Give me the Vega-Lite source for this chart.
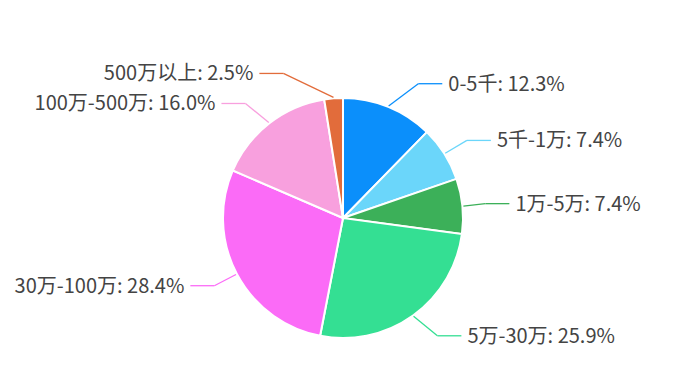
{
  "$schema": "https://vega.github.io/schema/vega-lite/v6.json",
  "width": 679,
  "height": 380,
  "autosize": {"type": "fit", "contains": "padding"},
  "padding": {"left": 7, "top": 56, "right": 0, "bottom": 0},
  "background": "white",
  "view": {"stroke": null},
  "config": {"text": {"font": "Noto Sans CJK SC"}},
  "data": {
    "values": [
      {"k": 1, "label": "0-5千", "value": 12.3},
      {"k": 2, "label": "5千-1万", "value": 7.4},
      {"k": 3, "label": "1万-5万", "value": 7.4},
      {"k": 4, "label": "5万-30万", "value": 25.9},
      {"k": 5, "label": "30万-100万", "value": 28.4},
      {"k": 6, "label": "100万-500万", "value": 16.0},
      {"k": 7, "label": "500万以上", "value": 2.5}
    ]
  },
  "transform": [
    {"window": [{"op": "sum", "field": "value", "as": "cum"}], "sort": [{"field": "k"}], "frame": [null, 0]},
    {"joinaggregate": [{"op": "sum", "field": "value", "as": "total"}]},
    {"calculate": "(datum.cum - datum.value / 2) / datum.total * 2 * PI", "as": "mid"},
    {"calculate": "sin(datum.mid) >= 0 ? 1 : -1", "as": "side"},
    {"calculate": "121 * sin(datum.mid)", "as": "x0"},
    {"calculate": "121 * cos(datum.mid)", "as": "y0"},
    {"calculate": "145 * cos(datum.mid)", "as": "y1"},
    {"calculate": "datum.side * sqrt(167 * 167 - datum.y1 * datum.y1)", "as": "x3"},
    {"calculate": "datum.x3 - datum.side * 24", "as": "x1"},
    {"calculate": "datum.x3 + datum.side * 6", "as": "xt"},
    {"calculate": "datum.label + ': ' + format(datum.value, '.1f') + '%'", "as": "txt"}
  ],
  "layer": [
    {
      "mark": {"type": "arc", "outerRadius": 120, "stroke": "white", "strokeWidth": 2},
      "encoding": {
        "theta": {"field": "value", "type": "quantitative", "stack": true},
        "order": {"field": "k", "type": "quantitative"},
        "color": {
          "field": "label", "type": "nominal", "legend": null, "sort": null,
          "scale": {
            "domain": ["0-5千", "5千-1万", "1万-5万", "5万-30万", "30万-100万", "100万-500万", "500万以上"],
            "range": ["#0b8ffb", "#6bd6fa", "#3cb059", "#34df93", "#fb6bf7", "#f8a0de", "#e26c3b"]
          }
        }
      }
    },
    {
      "mark": {"type": "rule", "strokeWidth": 1.3},
      "encoding": {
        "x": {"field": "x0", "type": "quantitative", "axis": null, "scale": {"domain": [-336, 336], "nice": false, "zero": false}},
        "y": {"field": "y0", "type": "quantitative", "axis": null, "scale": {"domain": [-162, 162], "nice": false, "zero": false}},
        "x2": {"field": "x1"},
        "y2": {"field": "y1"},
        "color": {"field": "label", "type": "nominal", "legend": null, "sort": null}
      }
    },
    {
      "mark": {"type": "rule", "strokeWidth": 1.3},
      "encoding": {
        "x": {"field": "x1", "type": "quantitative", "axis": null, "scale": {"domain": [-336, 336], "nice": false, "zero": false}},
        "y": {"field": "y1", "type": "quantitative", "axis": null, "scale": {"domain": [-162, 162], "nice": false, "zero": false}},
        "x2": {"field": "x3"},
        "y2": {"field": "y1"},
        "color": {"field": "label", "type": "nominal", "legend": null, "sort": null}
      }
    },
    {
      "transform": [{"filter": "datum.side > 0"}],
      "mark": {"type": "text", "align": "left", "baseline": "middle", "fontSize": 20, "color": "#444444", "dy": 1},
      "encoding": {
        "x": {"field": "xt", "type": "quantitative", "axis": null, "scale": {"domain": [-336, 336], "nice": false, "zero": false}},
        "y": {"field": "y1", "type": "quantitative", "axis": null, "scale": {"domain": [-162, 162], "nice": false, "zero": false}},
        "text": {"field": "txt"}
      }
    },
    {
      "transform": [{"filter": "datum.side < 0"}],
      "mark": {"type": "text", "align": "right", "baseline": "middle", "fontSize": 20, "color": "#444444", "dy": 1},
      "encoding": {
        "x": {"field": "xt", "type": "quantitative", "axis": null, "scale": {"domain": [-336, 336], "nice": false, "zero": false}},
        "y": {"field": "y1", "type": "quantitative", "axis": null, "scale": {"domain": [-162, 162], "nice": false, "zero": false}},
        "text": {"field": "txt"}
      }
    }
  ]
}
